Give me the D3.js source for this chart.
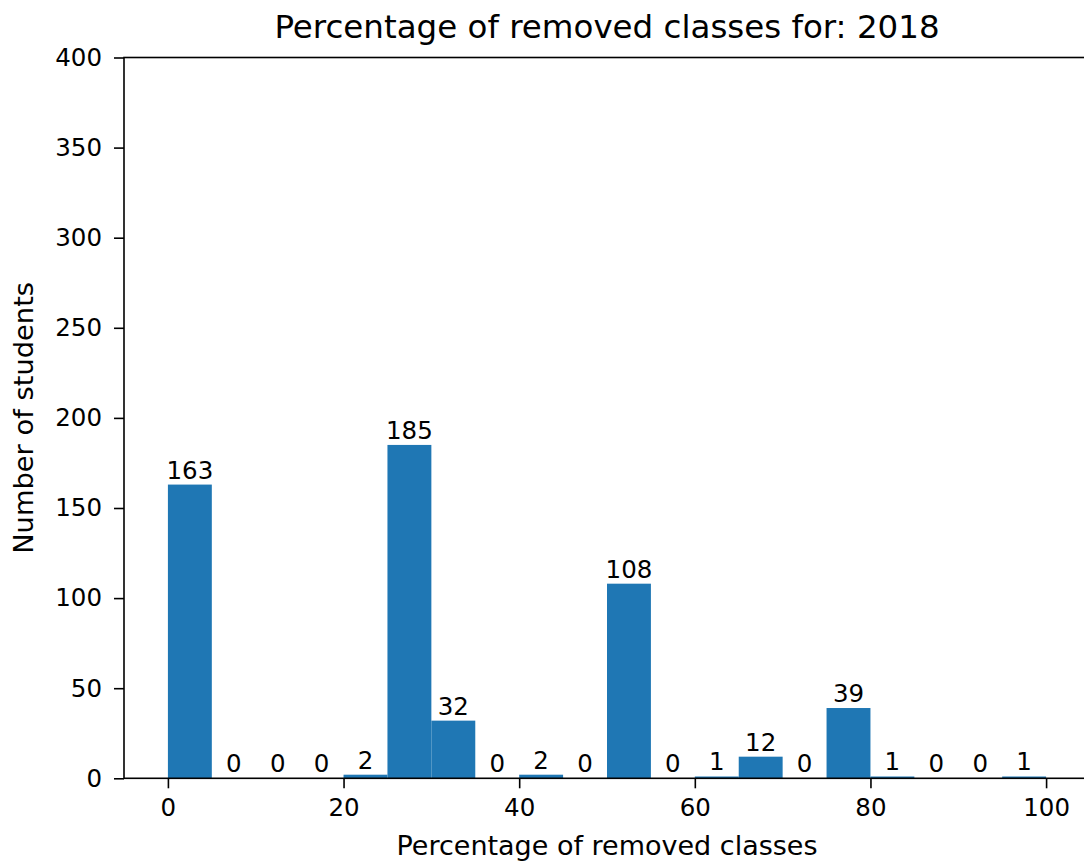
<!DOCTYPE html>
<html>
<head>
<meta charset="utf-8">
<script src="https://cdn.jsdelivr.net/npm/d3@7"></script>
<style>
  html, body { margin: 0; padding: 0; background: #ffffff; }
  svg { display: block; font-family: "DejaVu Sans", sans-serif; }
</style>
</head>
<body>
<svg id="chart" width="1084" height="865"></svg>
<script>
// Histogram bins (percentage of removed classes) and student counts per bin
const binStarts = [0, 5, 10, 15, 20, 25, 30, 35, 40, 45, 50, 55, 60, 65, 70, 75, 80, 85, 90, 95];
const binWidth = 5;
const counts = [163, 0, 0, 0, 2, 185, 32, 0, 2, 0, 108, 0, 1, 12, 0, 39, 1, 0, 0, 1];
const xTicks = [0, 20, 40, 60, 80, 100];
const yTicks = [0, 50, 100, 150, 200, 250, 300, 350, 400];

const titleText = "Percentage of removed classes for: 2018";
const xLabelText = "Percentage of removed classes";
const yLabelText = "Number of students";

(function draw() {
  const svg = d3.select("#chart");
  const W = 1084, H = 865;
  const plotLeft = 124, plotRight = 1090, plotTop = 57.5, plotBottom = 778.3;

  svg.append("rect").attr("width", W).attr("height", H).attr("fill", "#ffffff");

  const x = d3.scaleLinear().domain([-5, 105]).range([plotLeft, plotRight]);
  const y = d3.scaleLinear().domain([0, 400]).range([plotBottom, plotTop]);

  const bins = binStarts.map((s, i) => ({ s, v: counts[i] }));

  // Bars
  svg.append("g").selectAll("rect")
    .data(bins)
    .join("rect")
    .attr("x", d => x(d.s))
    .attr("width", d => x(d.s + binWidth) - x(d.s))
    .attr("y", d => y(d.v))
    .attr("height", d => y(0) - y(d.v))
    .attr("fill", "#1f77b4");

  // Count labels above bars
  svg.append("g").selectAll("text")
    .data(bins)
    .join("text")
    .attr("x", d => x(d.s + binWidth / 2))
    .attr("y", d => y(d.v) - 6)
    .attr("text-anchor", "middle")
    .attr("font-size", 24.5)
    .attr("fill", "#000")
    .text(d => d.v);

  // Axes
  const xAxis = d3.axisBottom(x).tickValues(xTicks).tickSizeOuter(0).tickSize(10).tickPadding(10);
  const yAxis = d3.axisLeft(y).tickValues(yTicks).tickSizeOuter(0).tickSize(10).tickPadding(12);

  const gx = svg.append("g").attr("transform", `translate(0,${plotBottom})`).call(xAxis);
  const gy = svg.append("g").attr("transform", `translate(${plotLeft},0)`).call(yAxis);

  [gx, gy].forEach(g => {
    g.select(".domain").remove();
    g.selectAll(".tick line").attr("stroke", "#000").attr("stroke-width", 1.6);
    g.selectAll(".tick text").attr("fill", "#000").attr("font-size", 24.5)
      .attr("font-family", "DejaVu Sans, sans-serif");
  });

  // Axes frame (spines)
  svg.append("rect")
    .attr("x", plotLeft).attr("y", plotTop)
    .attr("width", plotRight - plotLeft).attr("height", plotBottom - plotTop)
    .attr("fill", "none").attr("stroke", "#000").attr("stroke-width", 1.6);

  // Title and axis labels
  svg.append("text")
    .attr("x", (plotLeft + plotRight) / 2).attr("y", 38)
    .attr("text-anchor", "middle").attr("font-size", 32.5).attr("fill", "#000")
    .text(titleText);

  svg.append("text")
    .attr("x", (plotLeft + plotRight) / 2).attr("y", 855)
    .attr("text-anchor", "middle").attr("font-size", 27).attr("fill", "#000")
    .text(xLabelText);

  svg.append("text")
    .attr("transform", `translate(33,${(plotTop + plotBottom) / 2}) rotate(-90)`)
    .attr("text-anchor", "middle").attr("font-size", 27.3).attr("fill", "#000")
    .text(yLabelText);
})();
</script>
</body>
</html>
